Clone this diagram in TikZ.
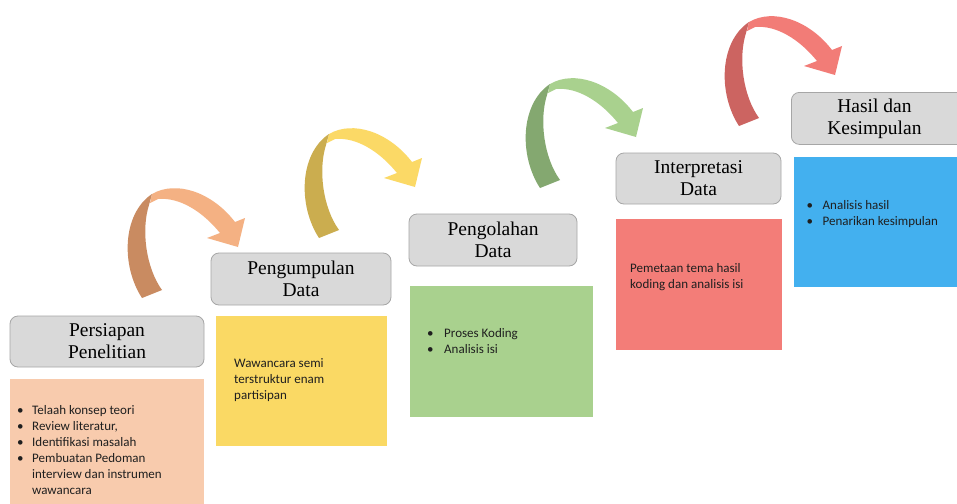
\documentclass[tikz,border=0pt]{standalone}
\usepackage{fontspec}
\setmainfont{Liberation Serif}
\newfontfamily\bodyfont{Carlito}
\definecolor{titlefill}{HTML}{D9D9D9}
\definecolor{titleborder}{HTML}{A6A6A6}
\definecolor{peach}{HTML}{F8CBAD}
\definecolor{yellowbox}{HTML}{FAD964}
\definecolor{greenbox}{HTML}{A9D18E}
\definecolor{redbox}{HTML}{F37D78}
\definecolor{bluebox}{HTML}{43B0EF}
\definecolor{aoneL}{HTML}{F4B183}
\definecolor{aoneD}{HTML}{C98B61}
\definecolor{atwoL}{HTML}{FBD966}
\definecolor{atwoD}{HTML}{CBAD4F}
\definecolor{athreeL}{HTML}{A9D18E}
\definecolor{athreeD}{HTML}{84A870}
\definecolor{afourL}{HTML}{F27C77}
\definecolor{afourD}{HTML}{CC6461}
\newcommand\bul[1]{\makebox[#1][l]{\textbullet}}
\newcommand\ribbonarrow[4]{%
\begin{scope}[shift={(#1,#2)}]
\fill[#3] (152,194) .. controls (176,180) and (212,192) .. (235,222) -- (245,218) -- (238,247) -- (207,238) -- (220,233) .. controls (203,212) and (180,197) .. (158,199) -- (150,203) -- cycle;
\fill[#4] (142,298) .. controls (121,266) and (122,214) .. (152,194) -- (149,205) .. controls (141,230) and (146,268) .. (162,290) -- cycle;
\end{scope}}
\begin{document}
\begin{tikzpicture}[x=1pt,y=-1pt,
  titlebox/.style={draw=titleborder, fill=titlefill, rounded corners=8pt, line width=0.8pt, align=center, font=\fontsize{19.5}{22}\selectfont, inner sep=0pt},
  colbox/.style={draw=none, inner sep=0pt, anchor=north west},
  bodytext/.style={font=\bodyfont\fontsize{13}{16}\selectfont, align=left, anchor=west, inner sep=0pt, text=black!88}]
\useasboundingbox[fill=white] (0,0) rectangle (957,503);
% ribbons
\ribbonarrow{0}{0}{aoneL}{aoneD}
\ribbonarrow{177}{-60}{atwoL}{atwoD}
\ribbonarrow{398}{-110}{athreeL}{athreeD}
\ribbonarrow{597}{-172}{afourL}{afourD}
% title boxes
\node[titlebox, minimum width=194pt, minimum height=51pt] (t1) at (107,341.5) {Persiapan\\Penelitian};
\node[titlebox, minimum width=180pt, minimum height=52pt] (t2) at (301,279) {Pengumpulan\\Data};
\node[titlebox, minimum width=168pt, minimum height=52pt] (t3) at (493,240) {Pengolahan\\Data};
\node[titlebox, minimum width=165pt, minimum height=51pt] (t4) at (698.5,178.5) {Interpretasi\\Data};
\node[titlebox, minimum width=180pt, minimum height=52pt, anchor=north west] (t5) at (791,92) {\hspace*{-14pt}Hasil dan\\\hspace*{-14pt}Kesimpulan};
% coloured boxes
\node[colbox, fill=peach, minimum width=194pt, minimum height=130pt] (b1) at (10,379) {};
\node[colbox, fill=yellowbox, minimum width=171pt, minimum height=130pt] (b2) at (216,316) {};
\node[colbox, fill=greenbox, minimum width=183pt, minimum height=131pt] (b3) at (410,286) {};
\node[colbox, fill=redbox, minimum width=166pt, minimum height=131pt] (b4) at (616,219) {};
\node[colbox, fill=bluebox, minimum width=170pt, minimum height=130pt] (b5) at (794,157) {};
% texts
\node[bodytext] (x1) at (17,450.5) {\bul{15pt}Telaah konsep teori\\\bul{15pt}Review literatur,\\\bul{15pt}Identifikasi masalah\\\bul{15pt}Pembuatan Pedoman\\\hspace*{15pt}interview dan instrumen\\\hspace*{15pt}wawancara};
\node[bodytext] (x2) at (234,380.5) {Wawancara semi\\terstruktur enam\\partisipan};
\node[bodytext] (x3) at (427,341) {\bul{17pt}Proses Koding\\\bul{17pt}Analisis isi};
\node[bodytext] (x4) at (630,277) {Pemetaan tema hasil\\koding dan analisis isi};
\node[bodytext] (x5) at (806.5,214.5) {\bul{16pt}Analisis hasil\\\bul{16pt}Penarikan kesimpulan};
\end{tikzpicture}
\end{document}
